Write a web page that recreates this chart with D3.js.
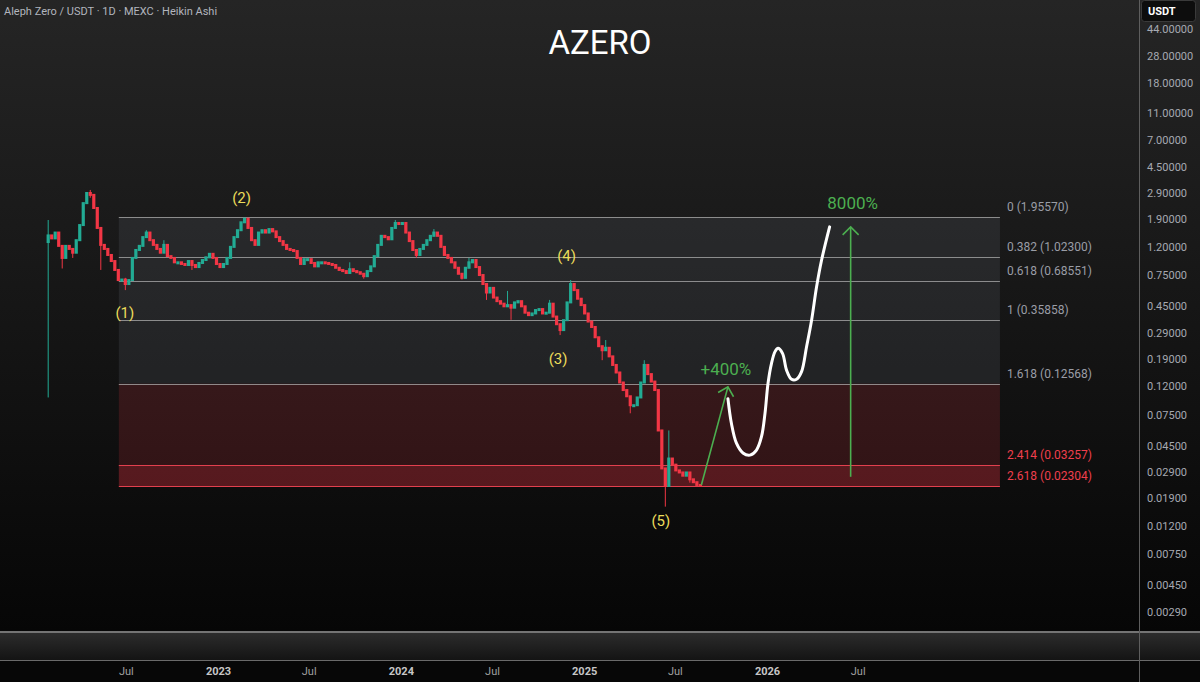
<!DOCTYPE html>
<html><head><meta charset="utf-8">
<script src="https://cdn.jsdelivr.net/npm/d3@7"></script>
<style>html,body{margin:0;padding:0;background:#000;overflow:hidden}svg{display:block}</style>
</head><body><svg id="c" width="1200" height="682"></svg>
<script>
// ---------- DATA ----------
const title = "AZERO";
const header = "Aleph Zero / USDT · 1D · MEXC · Heikin Ashi";
const startDate = "2022-01-27";   // first candle, weekly steps
const stepDays = 7;
const firstOpen = 1.30;
const closes = [
  1.45,1.38,1.52,1.22,1.00,1.22,1.16,1.09,1.34,1.72,
  2.47,2.92,2.83,2.28,1.64,1.24,1.16,1.05,0.95,0.82,
  0.694,0.70,0.65,0.694,1.00,1.14,1.22,1.41,1.52,1.34,
  1.24,1.16,1.09,1.24,1.03,1.00,0.93,0.93,0.905,0.89,
  0.95,0.89,0.86,0.92,0.966,1.01,1.07,1.00,0.905,0.86,
  0.905,1.00,1.20,1.41,1.58,1.80,1.91,1.64,1.34,1.24,
  1.52,1.58,1.52,1.61,1.55,1.41,1.32,1.24,1.16,1.14,
  1.12,1.00,0.905,0.98,0.98,0.92,0.87,0.93,0.93,0.92,
  0.905,0.89,0.85,0.82,0.805,0.78,0.83,0.805,0.79,0.77,
  0.74,0.805,0.87,1.03,1.24,1.44,1.41,1.36,1.64,1.78,
  1.75,1.78,1.52,1.32,1.14,1.05,1.16,1.24,1.34,1.44,
  1.52,1.44,1.20,1.05,1.00,0.93,0.85,0.77,0.72,0.85,
  0.93,0.966,0.86,0.754,0.65,0.565,0.61,0.52,0.49,0.47,
  0.45,0.459,0.44,0.48,0.49,0.45,0.405,0.389,0.40,0.423,
  0.43,0.40,0.405,0.47,0.38,0.335,0.304,0.358,0.48,0.65,
  0.588,0.51,0.459,0.40,0.35,0.32,0.27,0.233,0.218,0.227,
  0.197,0.171,0.151,0.128,0.113,0.102,0.088,0.088,0.10,0.128,
  0.171,0.147,0.13,0.113,0.058,0.031,0.0232,0.0365,0.033,0.030,
  0.029,0.0275,0.029,0.0259,0.0247,0.0236,0.0233
];
// [candle index, high, low]
const wicks = [
  [0,1.87,0.10],[4,1.22,0.84],[7,1.16,1.00],[12,3.07,2.70],[15,1.64,0.82],
  [22,0.72,0.588],[28,1.58,1.41],[33,1.34,1.09],[41,0.95,0.82],[56,1.93,1.80],
  [86,0.93,0.78],[90,0.77,0.71],[99,1.87,1.64],[105,1.14,1.00],[110,1.61,1.44],
  [118,0.77,0.70],[120,1.00,0.85],[125,0.65,0.50],[131,0.58,0.45],[132,0.459,0.36],
  [143,0.50,0.405],[146,0.335,0.28],[149,0.694,0.48],[158,0.233,0.185],[159,0.258,0.218],
  [166,0.102,0.077],[170,0.185,0.128],[176,0.031,0.0165],[177,0.058,0.0232],[183,0.029,0.0245]
];
const fibLevels = ["0","0.382","0.618","1","1.618","2.414","2.618"];
const fibPrices = [1.9557,1.023,0.68551,0.35858,0.12568,0.03257,0.02304];
const fibStart = "2022-06-17", fibEnd = "2027-04-11";
const yTicks = [44,28,18,11,7,4.5,2.9,1.9,1.2,0.75,0.45,0.29,0.19,0.12,0.075,0.045,0.029,0.019,0.012,0.0075,0.0045,0.0029];
const xTickDates = ["2022-07-01","2023-01-01","2023-07-01","2024-01-01","2024-07-01","2025-01-01","2025-07-01","2026-01-01","2026-07-01"];
const xTickLabels = ["Jul","2023","Jul","2024","Jul","2025","Jul","2026","Jul"];
const waveNames = ["(1)","(2)","(3)","(4)","(5)"];
const waveDates = ["2022-06-29","2023-02-17","2024-11-10","2024-11-27","2025-06-03"];
const wavePrices = [0.40,2.68,0.188,1.03,0.013];
const projection = [
  ["2025-10-15",0.098],["2025-10-22",0.065],["2025-11-01",0.047],["2025-11-14",0.040],
  ["2025-11-28",0.0386],["2025-12-11",0.042],["2025-12-21",0.0523],["2025-12-28",0.0769],
  ["2026-01-03",0.126],["2026-01-10",0.1755],["2026-01-17",0.213],["2026-01-23",0.225],
  ["2026-02-01",0.207],["2026-02-09",0.157],["2026-02-19",0.135],["2026-03-01",0.135],
  ["2026-03-11",0.153],["2026-03-21",0.231],["2026-03-31",0.358],["2026-04-10",0.621],
  ["2026-04-20",0.966],["2026-05-06",1.67]
];
const arrows = [
  {from:["2025-08-23",0.0236], to:["2025-10-15",0.119], label:"+400%", at:["2025-10-11",0.161]},
  {from:["2026-06-17",0.027], to:["2026-06-17",1.67], label:"8000%", at:["2026-06-21",2.47]}
];

// ---------- LAYOUT ----------
const W = 1200, H = 682, plotR = 1139, plotB = 631;
const svg = d3.select("#c");
const F = "Roboto, 'Noto Sans', sans-serif";
const dt = s => new Date(s + "T00:00:00Z");

const x = d3.scaleUtc().domain([dt("2023-01-01"), dt("2026-01-01")]).range([218, 767]);
const y = d3.scaleLog().domain([28, 0.0029]).range([56, 612]);

const defs = svg.append("defs");
const bg = defs.append("linearGradient").attr("id","bg").attr("x1",0).attr("y1",0).attr("x2",0).attr("y2",1);
bg.append("stop").attr("offset","0%").attr("stop-color","#252525");
bg.append("stop").attr("offset","100%").attr("stop-color","#060606");
const pg = defs.append("linearGradient").attr("id","pg").attr("x1",0).attr("y1",0).attr("x2",0).attr("y2",1);
pg.append("stop").attr("offset","0%").attr("stop-color","#2c2c2c");
pg.append("stop").attr("offset","100%").attr("stop-color","#141414");
defs.append("clipPath").attr("id","clip").append("rect").attr("width",plotR).attr("height",plotB);
defs.append("marker").attr("id","ah").attr("viewBox","-10 -10 20 20")
  .attr("markerWidth",20).attr("markerHeight",20).attr("markerUnits","userSpaceOnUse")
  .attr("refX",0).attr("refY",0).attr("orient","auto")
  .append("path").attr("d","M-8,-8L0,0L-8,8").attr("fill","none").attr("stroke","#4caf50").attr("stroke-width",1.6);

svg.append("rect").attr("width",W).attr("height",H).attr("fill","#070707");
svg.append("rect").attr("width",W).attr("height",plotB+1).attr("fill","url(#bg)");
svg.append("rect").attr("y",633).attr("width",W).attr("height",27).attr("fill","url(#pg)");
svg.append("line").attr("x1",0).attr("x2",W).attr("y1",632).attr("y2",632).attr("stroke","#9a9a9a").attr("stroke-width",1.5);
svg.append("line").attr("x1",0).attr("x2",W).attr("y1",660.5).attr("y2",660.5).attr("stroke","#6a6a6a");
svg.append("line").attr("x1",plotR+0.5).attr("x2",plotR+0.5).attr("y1",0).attr("y2",H).attr("stroke","#5e5e5e");

const plot = svg.append("g").attr("clip-path","url(#clip)");

// Fib zones
const fx0 = x(dt(fibStart)), fx1 = x(dt(fibEnd));
const zones = [
  {a:fibPrices[0], b:fibPrices[4], fill:"rgba(120,123,134,0.16)"},
  {a:fibPrices[4], b:fibPrices[5], fill:"rgba(242,54,69,0.16)"},
  {a:fibPrices[5], b:fibPrices[6], fill:"rgba(242,54,69,0.32)"}
];
plot.selectAll("rect.zone").data(zones).join("rect").attr("class","zone")
  .attr("x",fx0).attr("width",fx1-fx0)
  .attr("y",d=>y(d.a)).attr("height",d=>y(d.b)-y(d.a)).attr("fill",d=>d.fill);
plot.selectAll("line.fib").data(fibPrices).join("line").attr("class","fib")
  .attr("x1",fx0).attr("x2",fx1).attr("y1",d=>Math.round(y(d))+0.5).attr("y2",d=>Math.round(y(d))+0.5)
  .attr("stroke",(d,i)=>i>=5?"#e2404e":"rgba(175,175,175,0.75)").attr("stroke-width",1);
plot.selectAll("text.fibl").data(fibPrices).join("text").attr("class","fibl")
  .attr("x",fx1+7).attr("y",d=>y(d)-10).attr("dominant-baseline","central")
  .attr("font-family",F).attr("font-size",12)
  .attr("fill",(d,i)=>i>=5?"#ef3f4d":"#9a9da6")
  .text((d,i)=>`${fibLevels[i]} (${d.toFixed(5)})`);

// Candles
const candles = closes.map((c,i)=>({
  date: d3.utcDay.offset(dt(startDate), stepDays*i),
  o: i===0 ? firstOpen : closes[i-1], c
}));
const green = "#22ab94", red = "#f23645";
const col = d => d.c >= d.o ? green : red;
plot.selectAll("line.wick").data(wicks).join("line").attr("class","wick")
  .attr("x1",d=>x(candles[d[0]].date)).attr("x2",d=>x(candles[d[0]].date))
  .attr("y1",d=>y(d[1])).attr("y2",d=>y(d[2]))
  .attr("stroke",d=>col(candles[d[0]])).attr("stroke-width",1);
plot.selectAll("rect.body").data(candles).join("rect").attr("class","body")
  .attr("x",d=>x(d.date)-1.6).attr("width",3.2)
  .attr("y",d=>Math.min(y(d.o),y(d.c))-1)
  .attr("height",d=>Math.max(3, Math.abs(y(d.o)-y(d.c))+2))
  .attr("fill",col);

// Wave labels
plot.selectAll("text.wave").data(waveNames).join("text").attr("class","wave")
  .attr("x",(d,i)=>x(dt(waveDates[i]))).attr("y",(d,i)=>y(wavePrices[i]))
  .attr("text-anchor","middle").attr("dominant-baseline","central")
  .attr("font-family",F).attr("font-size",15).attr("fill","#ebdc5a").text(d=>d);

// Projection curve
const line = d3.line().x(d=>x(dt(d[0]))).y(d=>y(d[1])).curve(d3.curveCatmullRom.alpha(0.5));
plot.append("path").attr("d",line(projection)).attr("fill","none")
  .attr("stroke","#ffffff").attr("stroke-width",3).attr("stroke-linecap","round").attr("stroke-linejoin","round");

// Arrows
arrows.forEach(a=>{
  plot.append("line")
    .attr("x1",x(dt(a.from[0]))).attr("y1",y(a.from[1]))
    .attr("x2",x(dt(a.to[0]))).attr("y2",y(a.to[1]))
    .attr("stroke","#4caf50").attr("stroke-width",1.6).attr("marker-end","url(#ah)");
  plot.append("text").attr("x",x(dt(a.at[0]))).attr("y",y(a.at[1]))
    .attr("text-anchor","middle").attr("dominant-baseline","central")
    .attr("font-family",F).attr("font-size",17).attr("fill","#4caf50").text(a.label);
});

// Title & header
svg.append("text").attr("x",600).attr("y",54).attr("text-anchor","middle")
  .attr("font-family",F).attr("font-size",33).attr("fill","#ffffff").text(title);
svg.append("text").attr("x",4).attr("y",14.5)
  .attr("font-family",F).attr("font-size",11).attr("fill","#b2b5be").text(header);

// Y axis
const ya = svg.append("g").attr("transform",`translate(${plotR},0)`)
  .call(d3.axisRight(y).tickValues(yTicks).tickFormat(d=>d.toFixed(5)).tickSize(0).tickPadding(8));
ya.select(".domain").remove();
ya.selectAll("text").attr("font-family",F).attr("font-size",11).attr("fill","#a6a9b1");

// USDT box
svg.append("rect").attr("x",1141.5).attr("y",0.5).attr("width",54).attr("height",21).attr("rx",3)
  .attr("fill","#0d0d0d").attr("stroke","#3a3a3a");
svg.append("text").attr("x",1148).attr("y",15).attr("font-family",F).attr("font-size",11)
  .attr("font-weight",700).attr("fill","#ffffff").text("USDT");

// X axis
const xa = svg.append("g").attr("transform","translate(0,660)")
  .call(d3.axisBottom(x).tickValues(xTickDates.map(dt)).tickFormat((d,i)=>xTickLabels[i]).tickSize(0).tickPadding(7));
xa.select(".domain").remove();
xa.selectAll("text").attr("font-family",F).attr("font-size",11)
  .attr("font-weight",(d,i)=>xTickLabels[i]==="Jul"?400:700)
  .attr("fill",(d,i)=>xTickLabels[i]==="Jul"?"#a0a0a0":"#c6c6c6");
</script></body></html>
